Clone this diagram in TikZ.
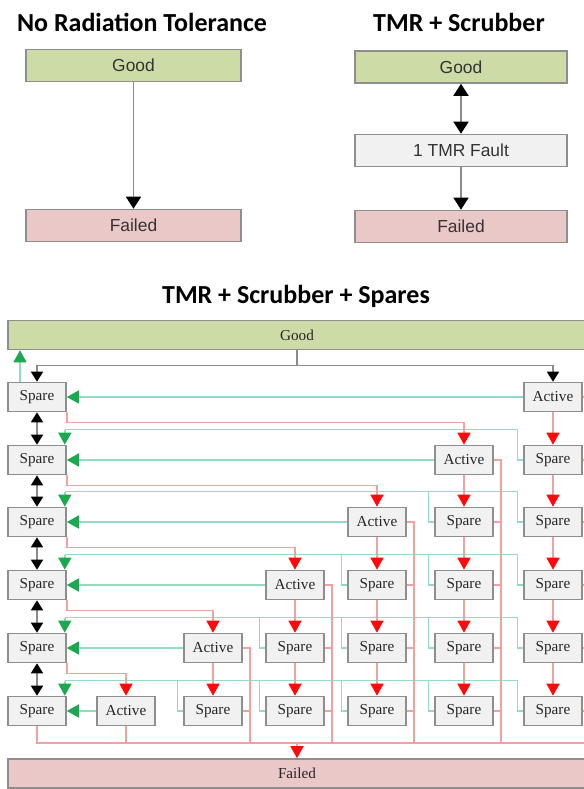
\documentclass[tikz,border=0pt]{standalone}
\usepackage{fontspec}
\setmainfont{Liberation Serif}
\setsansfont{Liberation Sans}
\newfontfamily\headfont{Carlito}
\usetikzlibrary{arrows.meta}
\definecolor{goodfill}{HTML}{CDDCA6}
\definecolor{failfill}{HTML}{EBC8C8}
\definecolor{boxfill}{HTML}{F1F1F1}
\definecolor{boxline}{HTML}{8E8E8E}
\definecolor{wireg}{HTML}{8A8A8A}
\definecolor{scrub}{HTML}{92DCC0}
\definecolor{scrubtip}{HTML}{1BA84E}
\definecolor{fault}{HTML}{F3A0A0}
\definecolor{faulttip}{HTML}{FF0A0A}

\tikzset{
  heading/.style={font=\headfont\bfseries\fontsize{13}{15}\selectfont},
  stbox/.style={draw=boxline, line width=0.8pt, inner sep=0pt, text=black!80,
    minimum height=16pt, font=\sffamily\fontsize{8.7}{10}\selectfont},
  statebar/.style={draw=boxline, line width=0.8pt, inner sep=0pt, text=black!85,
    minimum width=289pt, minimum height=14.5pt, font=\fontsize{7.6}{9}\selectfont},
  cellbox/.style={draw=boxline, fill=boxfill, line width=0.8pt, inner sep=0pt,
    minimum width=29pt, minimum height=14.5pt, text=black!85,
    font=\fontsize{7.6}{9}\selectfont},
  tmrline/.style={draw=wireg, line width=0.8pt,
    >={Triangle[width=7.5pt,length=6pt,color=black]}, ->},
  feedline/.style={draw=wireg, line width=0.8pt,
    >={Triangle[width=6pt,length=5pt,color=black]}, ->},
  scrubplain/.style={draw=scrub, line width=0.7pt},
  scrubline/.style={scrubplain, >={Triangle[width=6.5pt,length=6pt,color=scrubtip]}, ->},
  failplain/.style={draw=fault, line width=0.7pt},
  failline/.style={failplain, >={Triangle[width=6.5pt,length=6pt,color=faulttip]}, ->}
}

\begin{document}
\begin{tikzpicture}[x=0.5pt,y=-0.5pt]
\useasboundingbox (0,0) rectangle (584,789);
\clip (0,0) rectangle (584,789);

% no radiation tolerance
\node[heading] (t-none) at (142,22) {No Radiation Tolerance};
\node[stbox, fill=goodfill, minimum width=107.5pt] (g-none) at (133.5,65.5) {Good};
\node[stbox, fill=failfill, minimum width=107.5pt] (f-none) at (133.5,225.5) {Failed};
\draw[tmrline] (g-none) -- (f-none);

% tmr + scrubber
\node[heading] (t-tmr) at (459,22) {TMR + Scrubber};
\node[stbox, fill=goodfill, minimum width=106pt] (g-tmr) at (461,67) {Good};
\node[stbox, fill=boxfill, minimum width=106pt] (x-tmr) at (461,150.5) {1 TMR Fault};
\node[stbox, fill=failfill, minimum width=106pt] (f-tmr) at (461,226.5) {Failed};
\draw[tmrline, <->] (g-tmr) -- (x-tmr);
\draw[tmrline] (x-tmr) -- (f-tmr);

% tmr + scrubber + spares
\node[heading] (t-spares) at (296,296) {TMR + Scrubber + Spares};
\node[statebar, fill=goodfill] (good) at (297,335) {Good};
\node[statebar, fill=failfill] (failed) at (297,773.5) {Failed};
\coordinate (rbus) at (0,743);

\foreach \r/\y in {1/397,2/460,3/522,4/585,5/648,6/711} {
  \pgfmathtruncatemacro\act{7-\r}
  \node[cellbox] (b\r-0) at (37,\y) {Spare};
  \foreach \c/\x in {1/126,2/213,3/295,4/377,5/464,6/553} {
    \ifnum\c=\act
      \node[cellbox] (b\r-\c) at (\x,\y) {Active};
    \else\ifnum\c>\act
      \node[cellbox] (b\r-\c) at (\x,\y) {Spare};
    \fi\fi
  }
}

\draw[feedline] (good.south) -- ++(0,15) -| (b1-0.north);
\draw[feedline] (good.south) -- ++(0,15) -| (b1-6.north);
\draw[scrubline] ([xshift=-8.5pt]b1-0.north) -- ([xshift=-8.5pt]b1-0.north |- good.south);

\foreach \r in {1,...,6} {
  \pgfmathtruncatemacro\act{7-\r}
  \pgfmathtruncatemacro\first{\act+1}
  \draw[scrubline] (b\r-\act) -- (b\r-0);
  \ifnum\r>1
    \coordinate (gb\r) at ([xshift=-1pt,yshift=7.5pt]b\r-0.north east);
    \foreach \c in {\first,...,6}
      \draw[scrubplain] (b\r-\c.west) -- ++(-6,0) |- (gb\r);
    \draw[scrubline] (gb\r) -- (gb\r |- b\r-0.north);
  \fi
}

\foreach \r in {1,...,5} {
  \pgfmathtruncatemacro\n{\r+1}
  \pgfmathtruncatemacro\act{6-\r}
  \draw[feedline, <->] (b\r-0) -- (b\n-0);
  \draw[failline] (b\r-0.south east) -- ++(0,10) -| (b\n-\act.north);
}

% fault chains down each column
\foreach \c in {2,...,6} {
  \pgfmathtruncatemacro\top{7-\c}
  \pgfmathtruncatemacro\first{\top+1}
  \foreach \r in {\top,...,5} {
    \pgfmathtruncatemacro\n{\r+1}
    \draw[failline] (b\r-\c) -- (b\n-\c);
  }
  \draw[failplain] (b\top-\c.east) -- ++(7,0) coordinate (v\c) -- (v\c |- rbus);
  \foreach \r in {\first,...,6}
    \draw[failplain] (b\r-\c.east) -- (b\r-\c.east -| v\c);
}
\draw[failplain] (b6-0.south) |- (600,743);
\draw[failplain] (b6-1.south) -- (b6-1.south |- rbus);
\draw[failline] (failed.north |- rbus) -- (failed.north);
\end{tikzpicture}
\end{document}
